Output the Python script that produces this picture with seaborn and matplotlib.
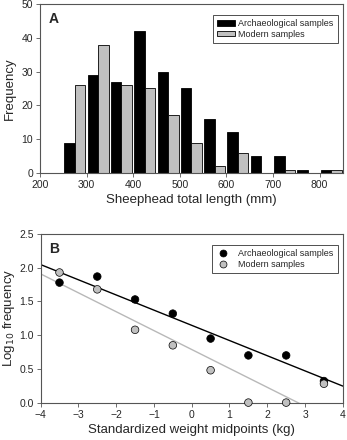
import numpy as np
import pandas as pd
import matplotlib
matplotlib.use("Agg")
import matplotlib.pyplot as plt
import seaborn as sns
from matplotlib.patches import Patch
from matplotlib.lines import Line2D

sns.set_theme(style="ticks")
plt.rcParams['font.family'] = ['Liberation Sans', 'DejaVu Sans']

# Panel A data
bin_centers = [275, 325, 375, 425, 475, 525, 575, 625, 675, 725, 775, 825]
arch_freq = [9, 29, 27, 42, 30, 25, 16, 12, 5, 5, 1, 1]
modern_freq = [26, 38, 26, 25, 17, 9, 2, 6, 0, 1, 0, 1]
series_names = ["Archaeological samples", "Modern samples"]

# Panel B data
weight_mid = [-3.5, -2.5, -1.5, -0.5, 0.5, 1.5, 2.5, 3.5]
arch_log = [1.78, 1.87, 1.53, 1.32, 0.95, 0.70, 0.70, 0.32]
modern_log = [1.93, 1.68, 1.08, 0.85, 0.48, 0.0, 0.0, 0.28]

gray = "#c0c0c0"
spine_c = "#555555"

fig = plt.figure(figsize=(3.47, 4.40), dpi=100)
axA = fig.add_axes([0.115, 0.607, 0.873, 0.384])
axB = fig.add_axes([0.117, 0.085, 0.871, 0.383])

dfA = pd.DataFrame({
    "length": bin_centers * 2,
    "freq": arch_freq + modern_freq,
    "sample": [series_names[0]] * len(bin_centers) + [series_names[1]] * len(bin_centers),
})
sns.barplot(data=dfA, x="length", y="freq", hue="sample", native_scale=True,
            palette=["black", gray], width=0.9, edgecolor="black", linewidth=0.6,
            legend=False, ax=axA, errorbar=None)
axA.set_xlim(200, 850)
axA.set_ylim(0, 50)
axA.set_xticks(range(200, 900, 100))
axA.set_yticks(range(0, 60, 10))
axA.set_xlabel("Sheephead total length (mm)", fontsize=9.5, labelpad=3)
axA.set_ylabel("Frequency", fontsize=9.5, labelpad=4)
axA.text(0.028, 0.955, "A", transform=axA.transAxes, fontsize=10, fontweight="bold",
         va="top", ha="left")
hA = [Patch(facecolor="black", edgecolor="black", linewidth=0.6),
      Patch(facecolor=gray, edgecolor="black", linewidth=0.6)]
legA = axA.legend(hA, series_names, loc="upper right", fontsize=6.5, frameon=True,
                  fancybox=False, edgecolor="black", handlelength=2.0, handleheight=0.55,
                  borderpad=0.45, labelspacing=0.15, handletextpad=0.4,
                  bbox_to_anchor=(0.998, 0.96))
legA.get_frame().set_linewidth(0.6)

# Panel B
dfB = pd.DataFrame({
    "x": weight_mid * 2,
    "y": arch_log + modern_log,
    "sample": [series_names[0]] * len(weight_mid) + [series_names[1]] * len(weight_mid),
})
xs = np.array([-4, 4])
for vals, col in [(arch_log, "black"), (modern_log, "#b8b8b8")]:
    k, b = np.polyfit(weight_mid, vals, 1)
    sns.lineplot(x=xs, y=k * xs + b, color=col, linewidth=1.0, ax=axB)
sns.scatterplot(data=dfB, x="x", y="y", hue="sample", palette=["black", gray],
                edgecolor="black", linewidth=0.5, s=30, legend=False, ax=axB,
                zorder=3, clip_on=False)
axB.set_xlim(-4, 4)
axB.set_ylim(0, 2.5)
axB.set_xticks(range(-4, 5))
axB.set_yticks(np.arange(0, 2.6, 0.5))
axB.yaxis.set_major_formatter(matplotlib.ticker.FormatStrFormatter("%.1f"))
axB.set_xlabel("Standardized weight midpoints (kg)", fontsize=9.5, labelpad=3)
axB.set_ylabel("Log$_{10}$ frequency", fontsize=9.5, labelpad=1.5)
axB.text(0.028, 0.955, "B", transform=axB.transAxes, fontsize=10, fontweight="bold",
         va="top", ha="left")
hB = [Line2D([], [], marker="o", linestyle="none", markerfacecolor="black",
             markeredgecolor="black", markersize=5, markeredgewidth=0.5),
      Line2D([], [], marker="o", linestyle="none", markerfacecolor=gray,
             markeredgecolor="black", markersize=5, markeredgewidth=0.5)]
legB = axB.legend(hB, series_names, loc="upper right", fontsize=6.5, frameon=True,
                  fancybox=False, edgecolor="black", handlelength=1.5,
                  borderpad=0.45, labelspacing=0.15, handletextpad=1.0,
                  bbox_to_anchor=(0.998, 0.96))
legB.get_frame().set_linewidth(0.6)

for ax in (axA, axB):
    for s in ax.spines.values():
        s.set_color(spine_c)
        s.set_linewidth(0.8)
    ax.tick_params(direction="out", length=3, width=0.6, color=spine_c,
                   labelsize=7.5, pad=2)

fig.savefig("out.png", dpi=100)
